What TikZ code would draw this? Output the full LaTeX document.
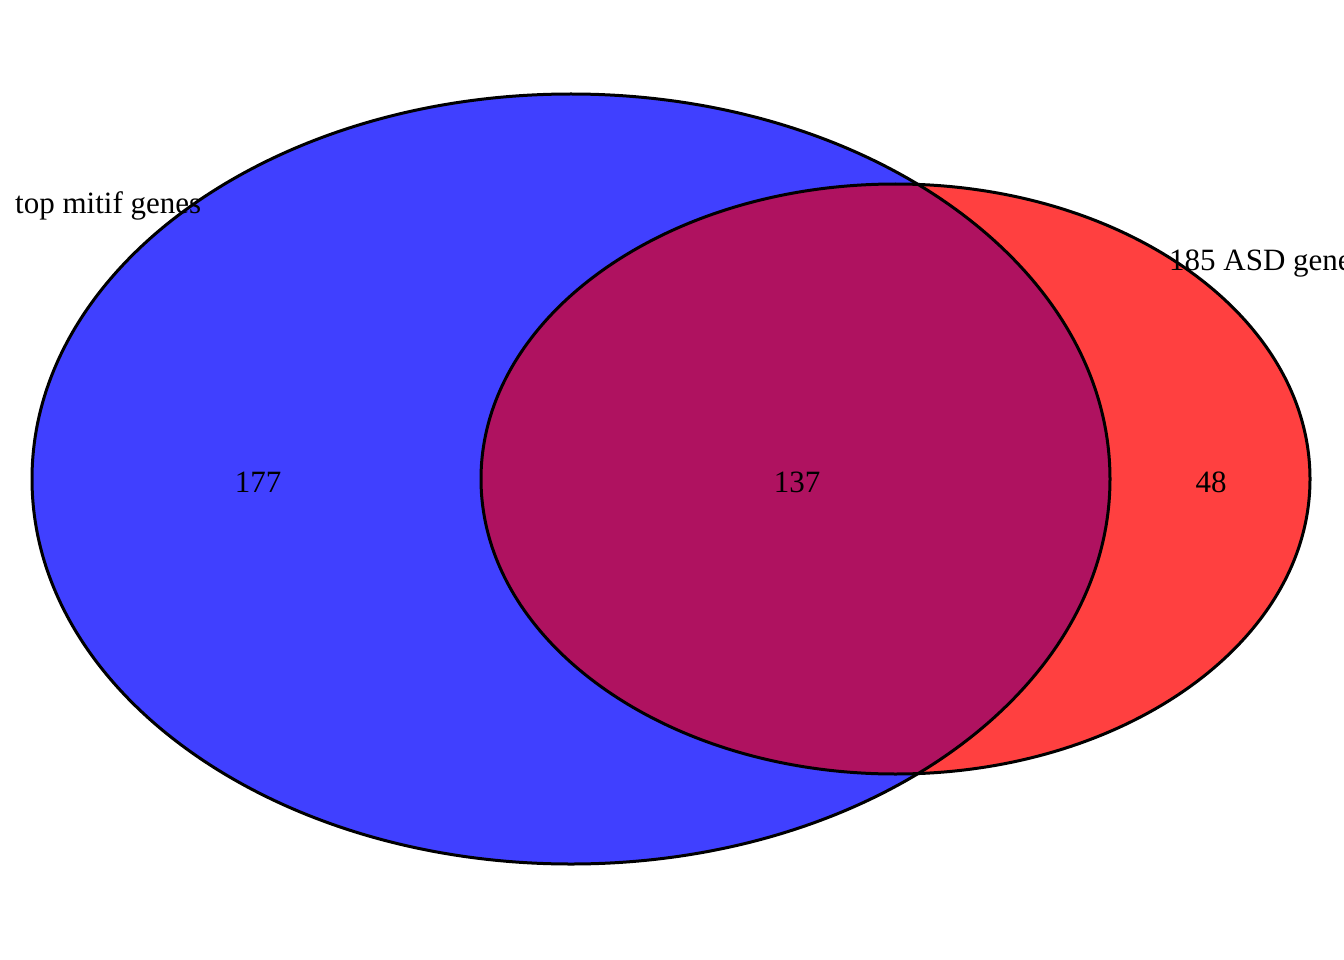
\documentclass[tikz,border=0pt]{standalone}
\usepackage{fontspec}
\setmainfont{Liberation Serif}
\usetikzlibrary{calc}
\definecolor{setblue}{RGB}{64,64,255}
\definecolor{setred}{RGB}{255,64,64}
\definecolor{setboth}{RGB}{175,18,96}
\tikzset{
  setline/.style={line width=3pt, draw=black},
  cnt/.style={inner sep=0pt, font=\fontsize{31}{36}\selectfont},
  setname/.style={cnt, anchor=west}
}

\begin{document}
\begin{tikzpicture}[x=1pt, y=-1pt]
\useasboundingbox (0,0) rectangle (1344,960);
% --- sets ---
\coordinate (A) at (571,479);
\coordinate (B) at (895.5,479);
\fill[setblue] (A) ellipse [x radius=539, y radius=385];
\fill[setred] (B) ellipse [x radius=414.5, y radius=295];
\begin{scope}
\clip (A) ellipse [x radius=539, y radius=385];
\fill[setboth] (B) ellipse [x radius=414.5, y radius=295];
\end{scope}
\draw[setline] (A) ellipse [x radius=539, y radius=385];
\draw[setline] (B) ellipse [x radius=414.5, y radius=295];
% --- counts ---
\node[cnt] (only1) at (258,482) {177};
\node[cnt] (both) at (797,482) {137};
\node[cnt] (only2) at (1211,482) {48};
% --- names ---
\node[setname] (name1) at (15,206) {top mitif genes};
\node[setname] (name2) at (1169,264) {185 ASD genes};
\end{tikzpicture}
\end{document}
